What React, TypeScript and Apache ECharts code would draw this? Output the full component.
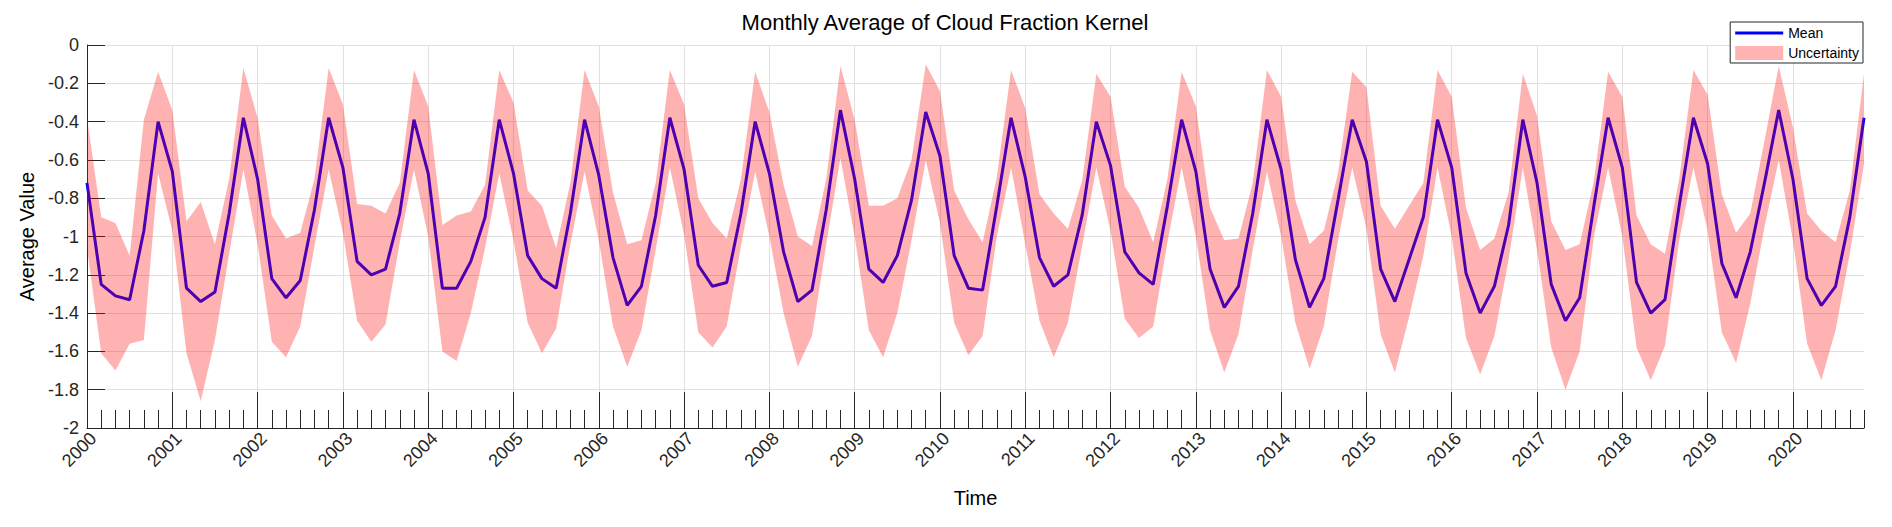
import React, { useEffect, useRef } from "react";
import * as echarts from "echarts";

const START_YEAR = 2000;
const STEPS_PER_YEAR = 6;
const YEAR_TICKS = [2000, 2001, 2002, 2003, 2004, 2005, 2006, 2007, 2008, 2009, 2010, 2011, 2012, 2013, 2014, 2015, 2016, 2017, 2018, 2019, 2020];
const Y_MIN = -2;
const Y_MAX = 0;
const Y_STEP = 0.2;

const MEAN = [
  -0.72, -1.25, -1.31, -1.33, -0.97, -0.40,
  -0.66, -1.27, -1.34, -1.29, -0.88, -0.38,
  -0.70, -1.22, -1.32, -1.23, -0.86, -0.38,
  -0.64, -1.13, -1.20, -1.17, -0.88, -0.39,
  -0.67, -1.27, -1.27, -1.13, -0.90, -0.39,
  -0.67, -1.10, -1.22, -1.27, -0.88, -0.39,
  -0.68, -1.11, -1.36, -1.26, -0.89, -0.38,
  -0.65, -1.15, -1.26, -1.24, -0.88, -0.40,
  -0.67, -1.08, -1.34, -1.28, -0.86, -0.34,
  -0.70, -1.17, -1.24, -1.10, -0.81, -0.35,
  -0.58, -1.10, -1.27, -1.28, -0.84, -0.38,
  -0.69, -1.11, -1.26, -1.20, -0.89, -0.40,
  -0.63, -1.08, -1.19, -1.25, -0.84, -0.39,
  -0.66, -1.17, -1.37, -1.26, -0.88, -0.39,
  -0.65, -1.12, -1.37, -1.22, -0.81, -0.39,
  -0.61, -1.17, -1.34, -1.12, -0.90, -0.39,
  -0.64, -1.19, -1.40, -1.26, -0.94, -0.39,
  -0.72, -1.25, -1.44, -1.32, -0.84, -0.38,
  -0.64, -1.24, -1.40, -1.33, -0.84, -0.38,
  -0.62, -1.14, -1.32, -1.08, -0.72, -0.34,
  -0.70, -1.22, -1.36, -1.26, -0.90, -0.38,
];

const UPPER = [
  -0.38, -0.90, -0.93, -1.10, -0.39, -0.14,
  -0.34, -0.92, -0.82, -1.04, -0.70, -0.12,
  -0.38, -0.89, -1.01, -0.98, -0.70, -0.12,
  -0.31, -0.83, -0.84, -0.88, -0.72, -0.13,
  -0.32, -0.94, -0.89, -0.87, -0.73, -0.13,
  -0.30, -0.76, -0.84, -1.06, -0.72, -0.13,
  -0.32, -0.77, -1.04, -1.02, -0.72, -0.13,
  -0.31, -0.80, -0.93, -1.01, -0.70, -0.14,
  -0.35, -0.73, -1.00, -1.05, -0.70, -0.11,
  -0.39, -0.84, -0.84, -0.80, -0.60, -0.10,
  -0.24, -0.76, -0.91, -1.03, -0.69, -0.13,
  -0.33, -0.78, -0.88, -0.96, -0.71, -0.15,
  -0.27, -0.74, -0.85, -1.03, -0.70, -0.14,
  -0.32, -0.85, -1.02, -1.01, -0.72, -0.13,
  -0.27, -0.81, -1.04, -0.97, -0.67, -0.14,
  -0.22, -0.84, -0.96, -0.84, -0.72, -0.13,
  -0.27, -0.85, -1.07, -1.01, -0.77, -0.15,
  -0.37, -0.92, -1.07, -1.04, -0.71, -0.14,
  -0.27, -0.89, -1.04, -1.09, -0.70, -0.13,
  -0.26, -0.78, -0.98, -0.88, -0.50, -0.11,
  -0.43, -0.88, -0.97, -1.03, -0.76, -0.15,
];

const LOWER = [
  -1.06, -1.61, -1.70, -1.56, -1.54, -0.67,
  -0.97, -1.61, -1.86, -1.54, -1.09, -0.65,
  -1.04, -1.55, -1.63, -1.47, -1.05, -0.65,
  -0.98, -1.44, -1.55, -1.46, -1.03, -0.65,
  -1.00, -1.60, -1.65, -1.40, -1.06, -0.67,
  -1.02, -1.45, -1.61, -1.48, -1.04, -0.66,
  -1.02, -1.47, -1.68, -1.49, -1.07, -0.64,
  -0.99, -1.50, -1.58, -1.47, -1.05, -0.66,
  -1.00, -1.40, -1.68, -1.52, -1.04, -0.59,
  -1.00, -1.49, -1.63, -1.40, -1.02, -0.60,
  -0.93, -1.45, -1.62, -1.52, -1.00, -0.64,
  -1.04, -1.44, -1.63, -1.45, -1.05, -0.64,
  -0.97, -1.43, -1.53, -1.47, -1.03, -0.64,
  -1.00, -1.49, -1.71, -1.51, -1.07, -0.66,
  -1.00, -1.45, -1.69, -1.47, -1.02, -0.64,
  -0.96, -1.51, -1.71, -1.42, -1.10, -0.64,
  -1.00, -1.53, -1.72, -1.52, -1.12, -0.64,
  -1.07, -1.58, -1.80, -1.60, -1.00, -0.64,
  -1.00, -1.58, -1.75, -1.57, -1.02, -0.64,
  -0.97, -1.50, -1.66, -1.35, -0.95, -0.60,
  -1.02, -1.56, -1.75, -1.49, -1.09, -0.62,
];

const TITLE = "Monthly Average of Cloud Fraction Kernel";
const X_NAME = "Time";
const Y_NAME = "Average Value";
const SERIES_MEAN = "Mean";
const SERIES_BAND = "Uncertainty";

export default function App() {
  const ref = useRef<HTMLDivElement>(null);

  useEffect(() => {
    if (!ref.current) return;
    const chart = echarts.init(ref.current, null, { renderer: "svg" });

    const time = MEAN.map((_, i) => START_YEAR + i / STEPS_PER_YEAR);
    const tMin = time[0];
    const tMax = time[time.length - 1];
    const minorTicks = time.slice();

    const meanData = time.map((t, i) => [t, MEAN[i]]);
    const bandData = time.map((t, i) => [t, LOWER[i], UPPER[i]]);

    const axisColor = "#262626";
    const font = "Arial, 'Liberation Sans', Helvetica, sans-serif";

    chart.setOption({
      animation: false,
      backgroundColor: "#ffffff",
      textStyle: { fontFamily: font },
      title: {
        text: TITLE,
        left: 940,
        top: 6,
        textAlign: "center",
        textStyle: { fontSize: 22, fontWeight: "normal", color: "#000000", fontFamily: font },
      },
      legend: {
        orient: "vertical",
        right: 29,
        top: 22,
        padding: [4, 4, 3, 5],
        itemGap: 6,
        itemWidth: 48,
        itemHeight: 14,
        symbolKeepAspect: true,
        borderColor: axisColor,
        borderWidth: 1,
        backgroundColor: "#ffffff",
        textStyle: { fontSize: 14, color: "#000000", fontFamily: font },
        data: [
          { name: SERIES_MEAN, icon: "path://M0,0L48,0L48,3L0,3Z", itemStyle: { color: "#0000ff", borderWidth: 0 } },
          { name: SERIES_BAND, icon: "rect", itemStyle: { color: "#ffb3b3", borderWidth: 0 } },
        ],
      },
      grid: { left: 87, right: 28, top: 45, bottom: 99, containLabel: false },
      xAxis: [
        {
          type: "value",
          min: tMin,
          max: tMax,
          interval: 1,
          name: X_NAME,
          nameLocation: "middle",
          nameGap: 60,
          nameTextStyle: { fontSize: 20, color: "#000000", fontFamily: font },
          axisLine: { show: true, onZero: false, lineStyle: { color: axisColor, width: 1 } },
          axisTick: { show: true, inside: true, length: 36, customValues: YEAR_TICKS, lineStyle: { color: axisColor, width: 1 } },
          axisLabel: {
            show: true,
            rotate: 45,
            margin: 1,
            verticalAlign: "top",
            fontSize: 18,
            color: axisColor,
            fontFamily: font,
            customValues: YEAR_TICKS,
            formatter: (v: number) => String(Math.round(v)),
          },
          splitLine: { show: true, lineStyle: { color: "#e0e0e0", width: 1 } },
          minorTick: { show: false },
        },
        {
          type: "value",
          min: tMin,
          max: tMax,
          position: "bottom",
          offset: 0,
          axisLine: { show: false, onZero: false },
          axisLabel: { show: false },
          splitLine: { show: false },
          axisTick: { show: true, inside: true, length: 18, customValues: minorTicks, lineStyle: { color: axisColor, width: 1 } },
        },
      ],
      yAxis: {
        type: "value",
        min: Y_MIN,
        max: Y_MAX,
        interval: Y_STEP,
        name: Y_NAME,
        nameLocation: "middle",
        nameGap: 46,
        nameTextStyle: { fontSize: 20, color: "#000000", fontFamily: font },
        axisLine: { show: true, onZero: false, lineStyle: { color: axisColor, width: 1 } },
        axisTick: { show: true, inside: true, length: 18, lineStyle: { color: axisColor, width: 1 } },
        axisLabel: { fontSize: 18, color: axisColor, margin: 8, fontFamily: font },
        splitLine: { show: true, lineStyle: { color: "#e0e0e0", width: 1 } },
      },
      series: [
        {
          name: SERIES_MEAN,
          type: "line",
          xAxisIndex: 0,
          data: meanData,
          symbol: "none",
          showSymbol: false,
          lineStyle: { color: "#0000ff", width: 3 },
          itemStyle: { color: "#0000ff" },
          z: 2,
        },
        {
          name: SERIES_BAND,
          type: "custom",
          xAxisIndex: 0,
          data: bandData,
          encode: { x: 0, y: [1, 2] },
          itemStyle: { color: "#ffb3b3" },
          silent: true,
          z: 3,
          renderItem: (params: any, api: any) => {
            if (params.dataIndex !== 0) return null;
            const pts: number[][] = [];
            for (let i = 0; i < bandData.length; i++) pts.push(api.coord([bandData[i][0], bandData[i][2]]));
            for (let i = bandData.length - 1; i >= 0; i--) pts.push(api.coord([bandData[i][0], bandData[i][1]]));
            return {
              type: "polygon",
              shape: { points: pts },
              style: { fill: "rgba(255,0,0,0.3)", stroke: "none" },
            };
          },
        },
      ],
    });

    return () => chart.dispose();
  }, []);

  return (
    <div
      ref={ref}
      style={{ position: "fixed", left: 0, top: 0, width: 1892, height: 527, background: "#ffffff" }}
    />
  );
}
